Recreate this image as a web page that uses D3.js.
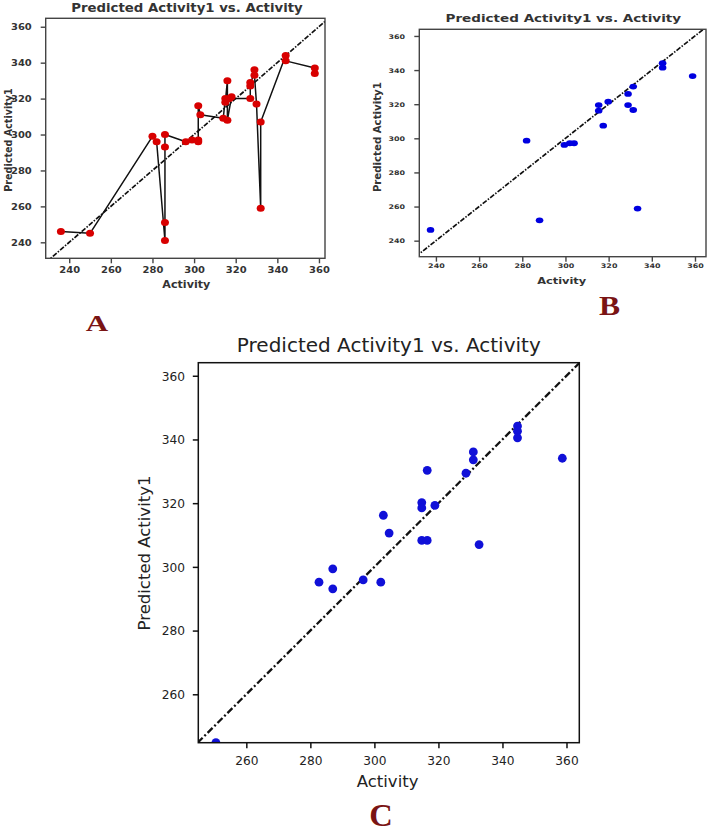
<!DOCTYPE html>
<html><head><meta charset="utf-8">
<script src="https://cdn.jsdelivr.net/npm/d3@7"></script>
<style>body{margin:0;background:#fff}svg{display:block}</style>
</head><body>
<svg id="chart" width="709" height="832"></svg>
<script>
// ---------- data ----------
const ticksAB = [240, 260, 280, 300, 320, 340, 360];
const ticksC = [260, 280, 300, 320, 340, 360];
const titleText = "Predicted Activity1 vs. Activity";
const xLabelText = "Activity";
const yLabelText = "Predicted Activity1";
const panelLetters = ["A", "B", "C"];

// Panel A (connected red points, in drawing order)
const activityA  = [236, 250, 280, 282, 286, 286, 286, 286, 296, 299, 302, 302, 302, 303, 314, 315, 315, 316, 316, 318, 317, 327, 327, 327, 329, 329, 330, 332, 332, 344, 344, 358, 358];
const predictedA = [246, 245, 299, 296, 241, 251, 293, 300, 296, 297, 296, 297, 316, 311, 309, 320, 318, 330, 308, 321, 320, 320, 329, 327, 336, 333, 317, 259, 307, 344, 341, 337, 334];

// Panel B (blue points)
const activityB  = [237.5, 282, 288, 299.5, 302, 304, 315.4, 315.4, 317.5, 319.8, 329, 329, 331.4, 331.4, 333.4, 345, 345, 358.9];
const predictedB = [246.3, 298.6, 251.9, 296.1, 297.1, 297.1, 319.5, 316.2, 307.4, 321.5, 326, 319.5, 330.3, 316.6, 258.8, 344, 341.4, 336.5];

// Panel C (blue points)
const activityC  = [250.5, 282.7, 287.0, 287.0, 296.5, 302.0, 302.8, 304.6, 314.8, 314.8, 314.8, 316.5, 316.5, 318.9, 328.6, 330.9, 330.9, 332.7, 344.7, 344.7, 344.7, 358.7];
const predictedC = [244.8, 295.2, 299.4, 293.1, 295.9, 295.2, 316.2, 310.6, 320.2, 318.5, 308.3, 308.3, 330.3, 319.3, 329.4, 336.1, 333.6, 307.0, 344.2, 342.6, 340.5, 334.1];

// ---------- drawing ----------
const svg = d3.select("#chart");

function drawPanel(c) {
  const g = svg.append("g");
  const x = d3.scaleLinear().domain(c.xDomain).range([c.left, c.right]);
  const y = d3.scaleLinear().domain(c.yDomain).range([c.bottom, c.top]);

  g.append("clipPath").attr("id", c.id).append("rect")
    .attr("x", c.left).attr("y", c.top)
    .attr("width", c.right - c.left).attr("height", c.bottom - c.top);
  const plot = g.append("g").attr("clip-path", `url(#${c.id})`);

  // identity diagonal
  const d0 = Math.min(c.xDomain[0], c.yDomain[0]);
  const d1 = Math.max(c.xDomain[1], c.yDomain[1]);
  plot.append("line")
    .attr("x1", x(d0)).attr("y1", y(d0)).attr("x2", x(d1)).attr("y2", y(d1))
    .attr("stroke", "#111").attr("stroke-width", c.diagWidth)
    .attr("stroke-dasharray", c.diagDash);

  const idx = d3.range(c.xs.length);
  if (c.connect) {
    plot.append("path")
      .attr("d", d3.line().x(i => x(c.xs[i])).y(i => y(c.ys[i]))(idx))
      .attr("fill", "none").attr("stroke", "#111").attr("stroke-width", 1.5)
      .attr("stroke-linejoin", "round");
  }
  plot.selectAll("ellipse.pt").data(idx).join("ellipse")
    .attr("class", "pt")
    .attr("cx", i => x(c.xs[i])).attr("cy", i => y(c.ys[i]))
    .attr("rx", c.rx).attr("ry", c.ry)
    .attr("fill", c.color);

  // axes
  const xAxis = g.append("g").attr("transform", `translate(0,${c.bottom})`)
    .call(d3.axisBottom(x).tickValues(c.xTicks).tickSize(c.tick).tickSizeOuter(0).tickFormat(d3.format("d")));
  const yAxis = g.append("g").attr("transform", `translate(${c.left},0)`)
    .call(d3.axisLeft(y).tickValues(c.yTicks).tickSize(c.tick).tickSizeOuter(0).tickFormat(d3.format("d")));
  [xAxis, yAxis].forEach(a => {
    a.select(".domain").remove();
    a.selectAll(".tick line").attr("stroke", c.axisColor).attr("stroke-width", c.spineW);
    a.selectAll(".tick text")
      .attr("font-family", "DejaVu Sans").attr("font-size", c.tickFont)
      .attr("font-weight", c.weight).attr("fill", c.textColor);
  });
  xAxis.selectAll(".tick text").attr("y", c.xTickBase).attr("dy", 0)
    .attr("transform", `scale(${c.sx},1)`);
  yAxis.selectAll(".tick text").attr("x", -c.yTickGap / c.sx).attr("dy", "0.36em")
    .attr("transform", `scale(${c.sx},1)`);

  // frame
  g.append("rect").attr("x", c.left).attr("y", c.top)
    .attr("width", c.right - c.left).attr("height", c.bottom - c.top)
    .attr("fill", "none").attr("stroke", c.axisColor).attr("stroke-width", c.spineW);

  // texts
  const txt = (t, px, py, size, opts = {}) => g.append("text")
    .attr("transform", `translate(${px},${py}) ${opts.rot ? "rotate(-90)" : ""} scale(${opts.sx || 1},1)`)
    .attr("text-anchor", "middle")
    .attr("dominant-baseline", opts.central ? "central" : "auto")
    .attr("font-family", opts.family || "DejaVu Sans")
    .attr("font-size", size).attr("font-weight", opts.weight || c.weight)
    .attr("fill", opts.fill || c.textColor).text(t);

  txt(titleText, c.titleX, c.titleY, c.titleFont, { sx: c.sx });
  txt(xLabelText, c.xLabX, c.xLabY, c.labFont, { sx: c.sx });
  txt(yLabelText, c.yLabX, c.yLabY, c.yLabFont, { rot: true, central: true });
  txt(c.letter, c.letX, c.letY, c.letFont, { sx: c.letSx, family: "Liberation Serif", weight: "bold", fill: "#7a1414" });
}

drawPanel({
  id: "clipA", letter: panelLetters[0],
  left: 45.7, right: 325, top: 18.3, bottom: 258.3,
  xDomain: [228.7, 362.9], yDomain: [231.1, 364.7],
  xTicks: ticksAB, yTicks: ticksAB,
  xs: activityA, ys: predictedA, connect: true,
  color: "#d80000", rx: 4, ry: 3.5,
  diagDash: "5,1.5,1.5,1.5", diagWidth: 1.7,
  tick: 5, spineW: 1.4, axisColor: "#444", textColor: "#333", weight: "bold", sx: 1.157,
  tickFont: 8.6, xTickBase: 14.7, yTickGap: 14,
  titleFont: 11.5, titleX: 187, titleY: 12,
  labFont: 9.6, xLabX: 186.3, xLabY: 287.5,
  yLabFont: 9.6, yLabX: 8.5, yLabY: 140,
  letFont: 24, letSx: 1.3, letX: 97, letY: 331
});

drawPanel({
  id: "clipB", letter: panelLetters[1],
  left: 419.3, right: 706, top: 29.3, bottom: 256.7,
  xDomain: [232.3, 365.1], yDomain: [230.6, 363.9],
  xTicks: ticksAB, yTicks: ticksAB,
  xs: activityB, ys: predictedB, connect: false,
  color: "#0000e0", rx: 3.8, ry: 2.9,
  diagDash: "5,1.5,1.5,1.5", diagWidth: 1.7,
  tick: 5, spineW: 1.4, axisColor: "#444", textColor: "#333", weight: "bold", sx: 1.265,
  tickFont: 6.3, xTickBase: 11.3, yTickGap: 14.3,
  titleFont: 10.7, titleX: 563.3, titleY: 21.7,
  labFont: 9, xLabX: 561.7, xLabY: 284,
  yLabFont: 10.2, yLabX: 377.5, yLabY: 137.2,
  letFont: 27, letSx: 1.17, letX: 609.5, letY: 315
});

drawPanel({
  id: "clipC", letter: panelLetters[2],
  left: 198.3, right: 579.3, top: 362.7, bottom: 742.7,
  xDomain: [245, 364], yDomain: [244.8, 364.1],
  xTicks: ticksC, yTicks: ticksC,
  xs: activityC, ys: predictedC, connect: false,
  color: "#1010d8", rx: 4.4, ry: 4.4,
  diagDash: "7,2.5,2,2.5", diagWidth: 2.3,
  tick: 5.5, spineW: 1.5, axisColor: "#111", textColor: "#222", weight: "normal", sx: 1,
  tickFont: 12.2, xTickBase: 22.3, yTickGap: 13.3,
  titleFont: 20, titleX: 388.8, titleY: 352,
  labFont: 16.5, xLabX: 387.6, xLabY: 787,
  yLabFont: 16.5, yLabX: 144, yLabY: 553,
  letFont: 31, letSx: 1.05, letX: 381, letY: 826
});
</script>
</body></html>
